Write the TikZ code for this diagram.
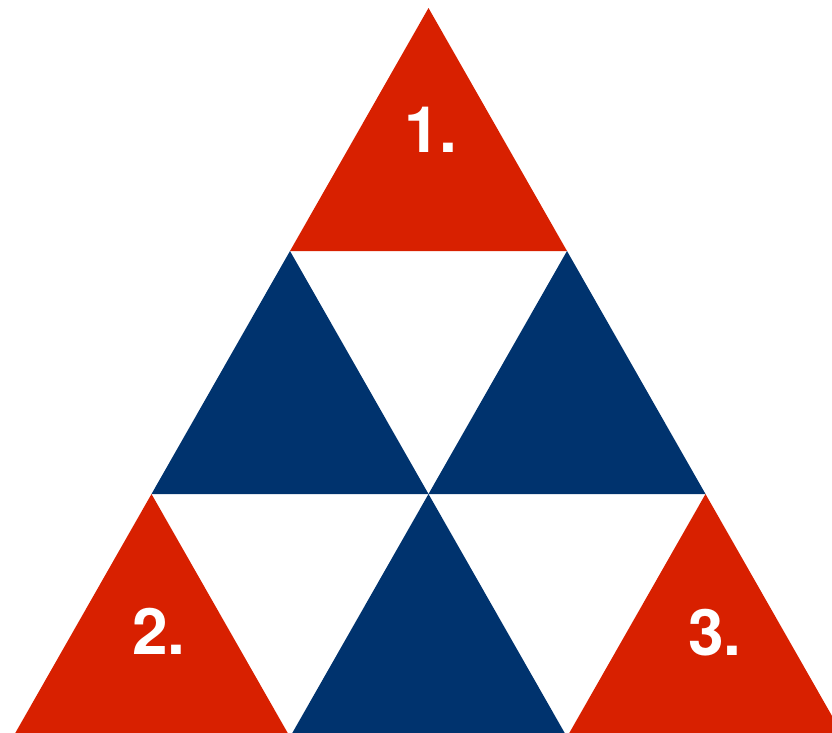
\documentclass[tikz,border=0pt]{standalone}
\usepackage{fontspec}
\setmainfont{TeX Gyre Heros}
\definecolor{tred}{RGB}{216,32,0}
\definecolor{tblue}{RGB}{0,51,110}
\tikzset{
  redtri/.style={fill=tred},
  bluetri/.style={fill=tblue},
  lbl/.style={text=white,font=\fontsize{64}{64}\selectfont\bfseries,anchor=base,inner sep=0pt}
}
\begin{document}
\begin{tikzpicture}[x=1pt,y=-1pt]
\useasboundingbox (0,0) rectangle (832,732);
\clip (0,0) rectangle (832,732);
\foreach \r in {0,...,3}{
  \foreach \k in {0,...,\r}{
    \coordinate (p\r\k) at ({428.5+(2*\k-\r)*138.5},{8+\r*243});
  }
}
\fill[redtri] (p00) -- (p10) -- (p11) -- cycle;
\fill[redtri] (p20) -- (p30) -- (p31) -- cycle;
\fill[redtri] (p22) -- (p32) -- (p33) -- cycle;
\fill[bluetri] (p10) -- (p20) -- (p21) -- cycle;
\fill[bluetri] (p11) -- (p21) -- (p22) -- cycle;
\fill[bluetri] (p21) -- (p31) -- (p32) -- cycle;
\node[lbl] (l1) at (431,152) {1.};
\node[lbl] (l2) at (159,654) {2.};
\node[lbl] (l3) at (715,655) {3.};
\end{tikzpicture}
\end{document}
